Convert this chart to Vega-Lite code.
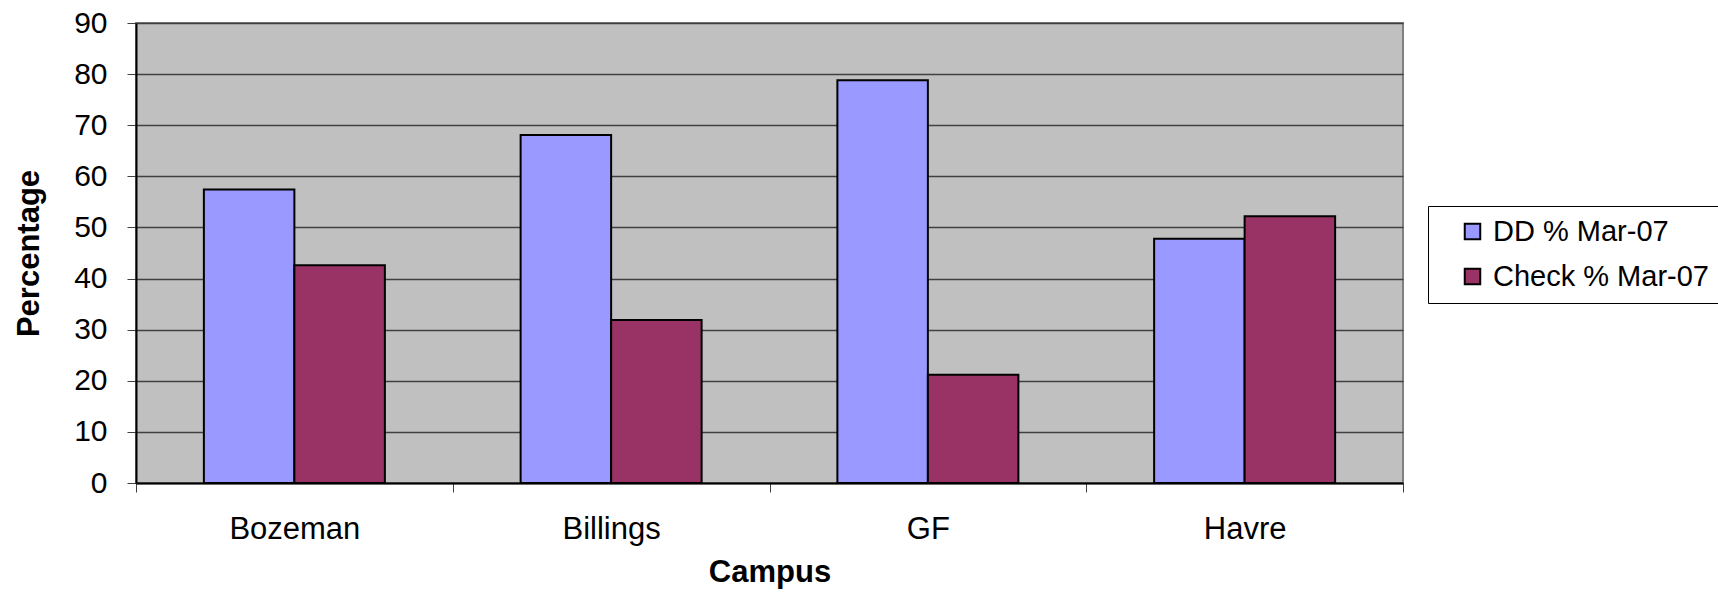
{
  "$schema": "https://vega.github.io/schema/vega-lite/v6.json",
  "autosize": {"type": "none"},
  "padding": {"left": 136, "top": 23, "right": 315, "bottom": 112},
  "width": 1267,
  "height": 460,
  "background": "white",
  "config": {
    "font": "Liberation Sans",
    "view": {"fill": "#C0C0C0", "stroke": "#808080", "strokeWidth": 2}
  },
  "data": {
    "values": [
      {"Campus": "Bozeman", "Series": "DD % Mar-07", "Percentage": 57.4},
      {"Campus": "Bozeman", "Series": "Check % Mar-07", "Percentage": 42.6},
      {"Campus": "Billings", "Series": "DD % Mar-07", "Percentage": 68.1},
      {"Campus": "Billings", "Series": "Check % Mar-07", "Percentage": 31.9},
      {"Campus": "GF", "Series": "DD % Mar-07", "Percentage": 78.8},
      {"Campus": "GF", "Series": "Check % Mar-07", "Percentage": 21.2},
      {"Campus": "Havre", "Series": "DD % Mar-07", "Percentage": 47.8},
      {"Campus": "Havre", "Series": "Check % Mar-07", "Percentage": 52.2}
    ]
  },
  "mark": {"type": "bar", "stroke": "black", "strokeWidth": 2},
  "encoding": {
    "x": {
      "field": "Campus",
      "type": "nominal",
      "sort": ["Bozeman", "Billings", "GF", "Havre"],
      "scale": {"paddingInner": 0, "paddingOuter": 0},
      "axis": {
        "title": "Campus",
        "titleFontSize": 31,
        "titleFontWeight": "bold",
        "titleColor": "black",
        "titlePadding": 13,
        "labelAngle": 0,
        "labelFontSize": 31,
        "labelColor": "black",
        "labelPadding": 22,
        "tickBand": "extent",
        "tickSize": 9,
        "tickColor": "#404040",
        "domainColor": "black",
        "domainWidth": 2,
        "grid": false
      }
    },
    "xOffset": {
      "field": "Series",
      "type": "nominal",
      "sort": ["DD % Mar-07", "Check % Mar-07"],
      "scale": {"paddingInner": 0, "paddingOuter": 0.75}
    },
    "y": {
      "field": "Percentage",
      "type": "quantitative",
      "scale": {"domain": [0, 90], "nice": false},
      "axis": {
        "title": "Percentage",
        "titleFontSize": 31,
        "titleFontWeight": "bold",
        "titleColor": "black",
        "titlePadding": 28,
        "values": [0, 10, 20, 30, 40, 50, 60, 70, 80, 90],
        "labelFontSize": 30,
        "labelColor": "black",
        "labelPadding": 20,
        "tickSize": 9,
        "tickColor": "#404040",
        "domainColor": "black",
        "domainWidth": 2,
        "grid": true,
        "gridColor": "#404040",
        "gridWidth": 1.5
      }
    },
    "color": {
      "field": "Series",
      "type": "nominal",
      "sort": ["DD % Mar-07", "Check % Mar-07"],
      "scale": {"domain": ["DD % Mar-07", "Check % Mar-07"], "range": ["#9999FF", "#993366"]},
      "legend": {
        "title": null,
        "orient": "none",
        "legendX": 1292,
        "legendY": 183,
        "fillColor": "white",
        "strokeColor": "black",
        "padding": 11,
        "symbolType": "square",
        "symbolSize": 240,
        "symbolStrokeColor": "black",
        "symbolStrokeWidth": 2,
        "symbolOffset": 19,
        "labelFontSize": 29,
        "labelLimit": 400,
        "labelColor": "black",
        "labelOffset": 6,
        "rowPadding": 15
      }
    }
  }
}
